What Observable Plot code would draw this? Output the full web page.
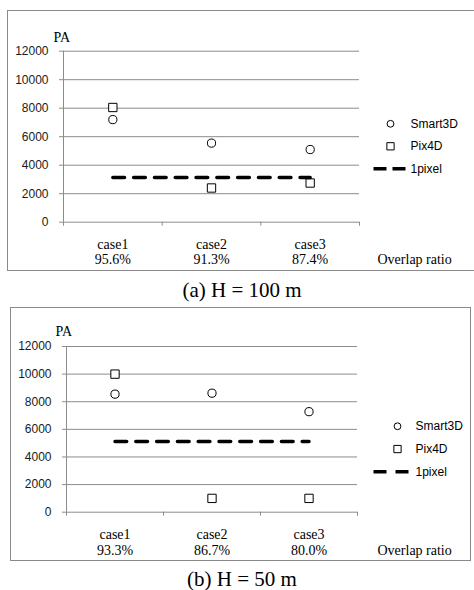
<!DOCTYPE html>
<html><head><meta charset="utf-8">
<script src="https://cdn.jsdelivr.net/npm/d3@7"></script>
<script src="https://cdn.jsdelivr.net/npm/@observablehq/plot@0.6"></script>
<style>
body{margin:0;width:474px;height:590px;position:relative;overflow:hidden;background:#fff;}
.box{position:absolute;border:1px solid #8a8a8a;box-sizing:border-box;background:#fff;overflow:hidden}
.box svg{display:block}
.cap{position:absolute;left:0;width:484px;text-align:center;white-space:nowrap;font-family:"Liberation Serif","Times New Roman",serif;font-size:21px;line-height:24px;color:#000}
</style></head><body>
<div id="boxA" class="box" style="left:7px;top:10px;width:470px;height:261px"></div>
<div id="capA" class="cap" style="top:278px"></div>
<div id="boxB" class="box" style="left:10px;top:307px;width:461px;height:254px"></div>
<div id="capB" class="cap" style="top:567px"></div>
<script>
// ---- data ----
const cases = ["case1", "case2", "case3"];
const overlapA = ["95.6%", "91.3%", "87.4%"];
const overlapB = ["93.3%", "86.7%", "80.0%"];
const smart3dA = [7200, 5550, 5100];
const pix4dA = [8050, 2400, 2750];
const pixelA = [3130, 3130, 3130];
const smart3dB = [8550, 8620, 7280];
const pix4dB = [10000, 1000, 1000];
const pixelB = [5120, 5120, 5120];
const yTicks = [0, 2000, 4000, 6000, 8000, 10000, 12000];
const legendLabels = ["Smart3D", "Pix4D", "1pixel"];
const captions = ["(a) H = 100 m", "(b) H = 50 m"];
const xLabel = "Overlap ratio";
const yLabel = "PA";

const GRID = "#8c8c8c";
const SERIF = "'Liberation Serif','Times New Roman',serif";
const SANS = "'Liberation Sans',Arial,sans-serif";

// legend swatch for the dashed series: two short dashes
function dashSymbol(len, dash) {
  return {draw(ctx) {
    ctx.moveTo(-len / 2, 0); ctx.lineTo(-len / 2 + dash, 0);
    ctx.moveTo(len / 2 - dash, 0); ctx.lineTo(len / 2, 0);
  }};
}

function makeChart(smart, pix, pixel, overlap, L) {
  const idx = d3.range(cases.length);
  const xc = i => i + 0.5;
  const legendMarks = [];
  const legSym = [
    {symbol: "circle", r: 3.4, strokeWidth: 1, dx: L.legSymDx},
    {symbol: "square", r: 4.1, strokeWidth: 1, dx: L.legSymDx},
    {symbol: dashSymbol(L.dashLen, 13), r: 4, strokeWidth: 3.5, dx: L.dashDx}
  ];
  legendLabels.forEach((lab, i) => {
    const s = legSym[i];
    legendMarks.push(Plot.dot([lab], {frameAnchor: "right", dx: s.dx, dy: L.legDy0 + i * L.legGap,
      symbol: s.symbol, r: s.r, stroke: "black", fill: "none", strokeWidth: s.strokeWidth}));
    legendMarks.push(Plot.text([lab], {frameAnchor: "right", text: d => d, textAnchor: "start",
      lineAnchor: "middle", dx: L.legTextDx, dy: L.legDy0 + i * L.legGap,
      fontFamily: SANS, fontSize: 12, fill: "#000"}));
  });
  return Plot.plot({
    width: L.width, height: L.height,
    marginLeft: L.marginLeft, marginRight: L.marginRight,
    marginTop: L.marginTop, marginBottom: L.marginBottom,
    style: {fontFamily: SANS, fontSize: "12px", background: "white", color: "#000", overflow: "visible"},
    x: {type: "linear", domain: [0, cases.length]},
    y: {domain: [0, 12000]},
    marks: [
      Plot.gridY(yTicks, {stroke: GRID, strokeOpacity: 1, strokeWidth: 1}),
      Plot.ruleX([0], {stroke: GRID, strokeWidth: 1}),
      Plot.axisY({ticks: yTicks, tickSize: 4, tickPadding: 11, stroke: GRID, fill: "#1a1a1a",
        tickFormat: d => String(d), label: null, fontSize: 12, fontFamily: SANS}),
      Plot.axisX({ticks: d3.range(cases.length + 1), tickSize: 4, tickFormat: () => "",
        stroke: GRID, label: null}),
      Plot.text(idx, {x: xc, text: i => cases[i], frameAnchor: "bottom", lineAnchor: "bottom",
        dy: L.catDy1, fontFamily: SERIF, fontSize: 14, fill: "#000"}),
      Plot.text(idx, {x: xc, text: i => overlap[i], frameAnchor: "bottom", lineAnchor: "bottom",
        dy: L.catDy2, fontFamily: SERIF, fontSize: 14, fill: "#000"}),
      Plot.text([xLabel], {frameAnchor: "bottom-right", text: d => d, textAnchor: "start",
        lineAnchor: "bottom", dx: L.ovDx, dy: L.catDy2, fontFamily: SERIF, fontSize: 14, fill: "#000"}),
      Plot.text([yLabel], {frameAnchor: "top-left", text: d => d, textAnchor: "start",
        lineAnchor: "bottom", dx: L.paDx, dy: L.paDy, fontFamily: SERIF, fontSize: 14, fill: "#000"}),
      Plot.dot(idx, {x: xc, y: i => smart[i], r: 4.1, stroke: "black", fill: "white", strokeWidth: 1}),
      Plot.dot(idx, {x: xc, y: i => pix[i], symbol: "square", r: 4.7, stroke: "black", fill: "white", strokeWidth: 1}),
      Plot.line(idx, {x: xc, y: i => pixel[i], stroke: "black", strokeWidth: 3.5, strokeDasharray: "11.7,9.1"}),
      ...legendMarks
    ]
  });
}

const layoutA = {width: 468, height: 259, marginLeft: 55, marginRight: 117, marginTop: 39.7, marginBottom: 48.3,
  paDx: -10, paDy: -9, catDy1: 26.6, catDy2: 41.6, ovDx: 18,
  legSymDx: 31, legTextDx: 51, dashDx: 30, dashLen: 32, legDy0: -12.9, legGap: 22.5};
const layoutB = {width: 459, height: 252, marginLeft: 55, marginRight: 113, marginTop: 38, marginBottom: 48.3,
  paDx: -11, paDy: -11, catDy1: 26.6, catDy2: 42.3, ovDx: 20,
  legSymDx: 40, legTextDx: 58, dashDx: 33.5, dashLen: 35, legDy0: -3.1, legGap: 22.8};

document.getElementById("boxA").append(makeChart(smart3dA, pix4dA, pixelA, overlapA, layoutA));
document.getElementById("boxB").append(makeChart(smart3dB, pix4dB, pixelB, overlapB, layoutB));
document.getElementById("capA").textContent = captions[0];
document.getElementById("capB").textContent = captions[1];
</script>
</body></html>
